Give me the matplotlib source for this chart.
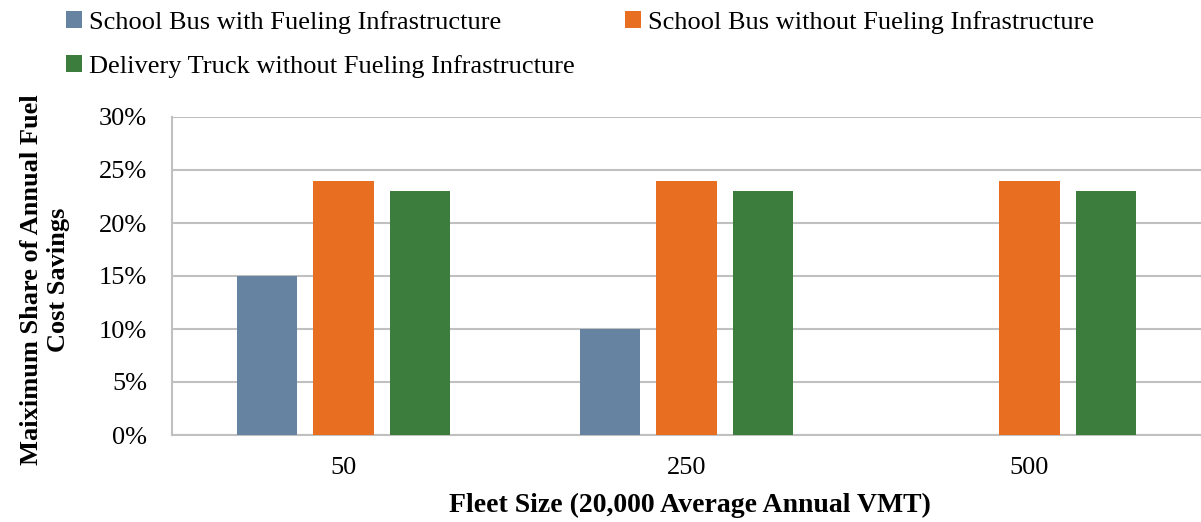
import matplotlib.pyplot as plt
import numpy as np

# Data
categories = ['50', '250', '500']
series_names = ['School Bus with Fueling Infrastructure',
                'School Bus without Fueling Infrastructure',
                'Delivery Truck without Fueling Infrastructure']
bus_with = [0.15, 0.10, 0.0]
bus_without = [0.24, 0.24, 0.24]
truck_without = [0.23, 0.23, 0.23]
colors = ['#6783a2', '#e86f21', '#3c7d3e']

plt.rcParams['font.family'] = ['Liberation Serif', 'DejaVu Serif']
fs = 19

fig = plt.figure(figsize=(12.01, 5.22), dpi=100)
W, H = 1201, 522
ax = fig.add_axes([172 / W, (H - 435) / H, (W - 172) / W, (435 - 117) / H])

x = np.arange(len(categories))
width = 0.175
step = 0.224
all_series = [bus_with, bus_without, truck_without]
handles = []
for i, (vals, c, name) in enumerate(zip(all_series, colors, series_names)):
    b = ax.bar(x + (i - 1) * step, vals, width, color=c, label=name, zorder=3)
    handles.append(b)

ax.set_xlim(-0.5, 2.5)
ax.set_ylim(0, 0.30)
yt = np.arange(0, 0.31, 0.05)
ax.set_yticks(yt)
ax.set_yticklabels([f'{int(round(v * 100))}%' for v in yt])
ax.set_xticks(x)
ax.set_xticklabels(categories)
ax.tick_params(axis='both', length=0, labelsize=fs)
ax.tick_params(axis='y', pad=18)
ax.tick_params(axis='x', pad=16)
ax.grid(axis='y', color='#c0c0c0', linewidth=1.5, zorder=0)
for s in ['top', 'right']:
    ax.spines[s].set_visible(False)
for s in ['left', 'bottom']:
    ax.spines[s].set_color('#c0c0c0')
    ax.spines[s].set_linewidth(1.5)

fig.text(690 / W, 1 - 505 / H, 'Fleet Size (20,000 Average Annual VMT)',
         ha='center', va='center', fontsize=fs + 1, fontweight='bold')
fig.text(45 / W, 1 - 280 / H, 'Maiximum Share of Annual Fuel\nCost Savings',
         ha='center', va='center', rotation=90, fontsize=fs, fontweight='bold',
         linespacing=1.2)

# column-first fill in matplotlib, so reorder to get row-wise layout
order = [0, 2, 1]
fig.legend(handles=[handles[k] for k in order], labels=[series_names[k] for k in order],
           ncol=2, loc='upper left', bbox_to_anchor=(42 / W, 1.025), frameon=False,
           fontsize=fs, handlelength=0.62, handleheight=0.62, handletextpad=0.25,
           columnspacing=1.9, labelspacing=0.8)

fig.savefig('out.png', dpi=100)
